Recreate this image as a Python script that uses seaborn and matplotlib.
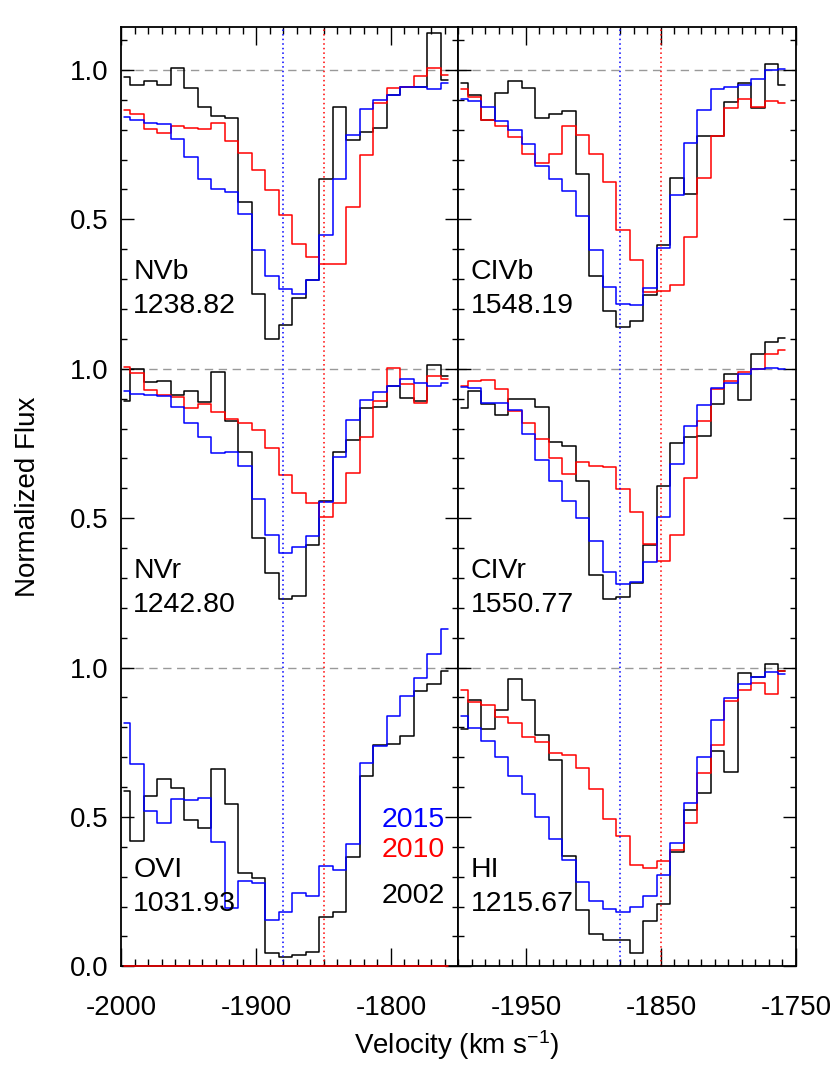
import numpy as np
import pandas as pd
import seaborn as sns
import matplotlib
matplotlib.use("Agg")
import matplotlib.pyplot as plt
from matplotlib.ticker import MultipleLocator

sns.set_style("ticks")
plt.rcParams['font.family'] = ['Liberation Sans', 'DejaVu Sans']
plt.rcParams['mathtext.default'] = 'regular'
plt.rcParams['axes.unicode_minus'] = False
plt.rcParams['axes.edgecolor'] = 'black'
plt.rcParams['xtick.color'] = 'black'
plt.rcParams['ytick.color'] = 'black'
plt.rcParams['text.color'] = 'black'

# velocity bin centres (km/s)
velocity = np.arange(-1998, -1757, 10)

# --- normalized flux per line, per epoch ---
nvb_2002 = [0.977, 0.949, 0.962, 0.949, 1.007, 0.940, 0.875, 0.847, 0.839, 0.558, 0.251, 0.099, 0.147,
            0.237, 0.298, 0.636, 0.875, 0.766, 0.792, 0.807, 0.915, 0.943, 0.943, 1.124, 0.965]
nvb_2010 = [0.865, 0.854, 0.804, 0.790, 0.812, 0.806, 0.804, 0.821, 0.761, 0.721, 0.664, 0.599, 0.516,
            0.417, 0.373, 0.350, 0.350, 0.542, 0.716, 0.888, 0.940, 0.943, 0.980, 1.008, 0.984]
nvb_2015 = [0.844, 0.834, 0.824, 0.819, 0.770, 0.709, 0.634, 0.600, 0.592, 0.517, 0.396, 0.312, 0.267,
            0.250, 0.298, 0.449, 0.634, 0.783, 0.871, 0.901, 0.917, 0.943, 0.943, 0.935, 0.956]

civb_2002 = [0.958, 0.915, 0.834, 0.924, 0.962, 0.940, 0.839, 0.853, 0.862, 0.653, 0.309, 0.192, 0.140,
             0.161, 0.246, 0.413, 0.638, 0.586, 0.779, 0.779, 0.893, 0.955, 0.873, 1.021, 0.951]
civb_2010 = [0.935, 0.910, 0.832, 0.812, 0.775, 0.718, 0.689, 0.720, 0.812, 0.783, 0.720, 0.625, 0.463,
             0.363, 0.257, 0.260, 0.281, 0.441, 0.638, 0.778, 0.873, 0.904, 0.876, 0.896, 0.891]
civb_2015 = [0.904, 0.895, 0.876, 0.829, 0.800, 0.751, 0.679, 0.634, 0.596, 0.511, 0.398, 0.273, 0.218,
             0.214, 0.271, 0.404, 0.583, 0.757, 0.865, 0.935, 0.943, 0.949, 0.971, 0.999, 1.004]

nvr_2002 = [0.893, 1.000, 0.956, 0.959, 0.912, 0.926, 0.890, 0.990, 0.826, 0.722, 0.435, 0.315, 0.229,
            0.240, 0.410, 0.556, 0.720, 0.762, 0.867, 0.871, 0.943, 0.902, 0.893, 1.012, 0.977]
nvr_2010 = [1.007, 0.985, 0.930, 0.913, 0.904, 0.868, 0.881, 0.854, 0.831, 0.818, 0.795, 0.735, 0.646,
            0.584, 0.550, 0.504, 0.551, 0.651, 0.772, 0.891, 1.002, 0.949, 0.887, 0.977, 0.965]
nvr_2015 = [0.924, 0.917, 0.912, 0.910, 0.871, 0.820, 0.772, 0.719, 0.722, 0.675, 0.564, 0.443, 0.385,
            0.402, 0.439, 0.555, 0.703, 0.829, 0.896, 0.921, 0.943, 0.965, 0.952, 0.943, 0.952]

civr_2002 = [0.867, 0.924, 0.882, 0.846, 0.898, 0.898, 0.873, 0.756, 0.740, 0.625, 0.310, 0.231, 0.237,
             0.282, 0.410, 0.608, 0.750, 0.770, 0.776, 0.882, 0.982, 0.895, 1.049, 1.090, 1.102]
civr_2010 = [0.941, 0.958, 0.962, 0.932, 0.859, 0.817, 0.765, 0.700, 0.647, 0.689, 0.675, 0.672, 0.599,
             0.519, 0.413, 0.357, 0.443, 0.633, 0.826, 0.932, 0.958, 0.988, 0.999, 1.049, 1.064]
civr_2015 = [0.940, 0.937, 0.885, 0.887, 0.862, 0.783, 0.694, 0.623, 0.558, 0.500, 0.422, 0.321, 0.279,
             0.287, 0.352, 0.504, 0.681, 0.807, 0.878, 0.937, 0.952, 0.984, 0.999, 1.004, 0.999]

ovi_2002 = [0.588, 0.421, 0.570, 0.627, 0.596, 0.490, 0.462, 0.661, 0.544, 0.311, 0.295, 0.046, 0.030,
            0.038, 0.047, 0.164, 0.183, 0.365, 0.638, 0.741, 0.744, 0.772, 0.922, 0.945, 0.987]
ovi_2010 = [0.0] * 25
ovi_2015 = [0.814, 0.676, 0.521, 0.479, 0.560, 0.555, 0.565, 0.417, 0.196, 0.287, 0.278, 0.155, 0.183,
            0.247, 0.237, 0.336, 0.322, 0.408, 0.680, 0.739, 0.839, 0.906, 0.964, 1.045, 1.130]

hi_2002 = [0.794, 0.892, 0.795, 0.858, 0.961, 0.890, 0.775, 0.691, 0.369, 0.189, 0.108, 0.088, 0.088,
           0.044, 0.152, 0.209, 0.384, 0.523, 0.581, 0.719, 0.652, 0.981, 0.970, 1.011, 0.990]
hi_2010 = [0.925, 0.886, 0.875, 0.834, 0.814, 0.766, 0.750, 0.713, 0.708, 0.665, 0.593, 0.492, 0.436,
           0.339, 0.330, 0.353, 0.390, 0.481, 0.646, 0.741, 0.888, 0.925, 0.948, 0.912, 0.989]
hi_2015 = [0.839, 0.799, 0.754, 0.702, 0.638, 0.576, 0.499, 0.425, 0.356, 0.281, 0.220, 0.191, 0.183,
           0.200, 0.235, 0.304, 0.412, 0.548, 0.699, 0.823, 0.897, 0.944, 0.968, 0.984, 0.978]

line_names = ["NVb", "CIVb", "NVr", "CIVr", "OVI", "HI"]
line_waves = ["1238.82", "1548.19", "1242.80", "1550.77", "1031.93", "1215.67"]
years = ["2002", "2010", "2015"]
year_colors = {"2002": "black", "2010": "red", "2015": "blue"}

# (panel column, row offset, spectra per year)
panels = [
    (0, 2, [nvb_2002, nvb_2010, nvb_2015]),
    (1, 2, [civb_2002, civb_2010, civb_2015]),
    (0, 1, [nvr_2002, nvr_2010, nvr_2015]),
    (1, 1, [civr_2002, civr_2010, civr_2015]),
    (0, 0, [ovi_2002, ovi_2010, ovi_2015]),
    (1, 0, [hi_2002, hi_2010, hi_2015]),
]

v_2015 = -1880
v_2010 = -1850

fig = plt.figure(figsize=(8.3, 10.75), dpi=100)
ax_l = fig.add_axes([0.1458, 0.1011, 0.4066, 0.8741])
ax_r = fig.add_axes([0.5524, 0.1011, 0.4066, 0.8741])
axes = [ax_l, ax_r]

for i, (col, off, spectra) in enumerate(panels):
    ax = axes[col]
    for yr, flux in zip(years, spectra):
        df = pd.DataFrame({"v": velocity, "f": np.array(flux) + off})
        # OVI has no 2010 data: flat line on the bottom axis, drawn over the spine
        on_axis = (off == 0 and max(flux) == 0)
        sns.lineplot(data=df, x="v", y="f", ax=ax, color=year_colors[yr], lw=1.1,
                     drawstyle="steps-mid", estimator=None, errorbar=None,
                     clip_on=not on_axis, zorder=3 if on_axis else 2)
    ax.text(-1991, off + 0.30, line_names[i], fontsize=20.5, ha="left", va="baseline")
    ax.text(-1991, off + 0.185, line_waves[i], fontsize=20.5, ha="left", va="baseline")

for col, ax in enumerate(axes):
    for lvl in [1, 2, 3]:
        ax.axhline(lvl, color="#999999", lw=1.0, ls=(0, (6, 4)), zorder=0)
    ax.axvline(v_2015, color="blue", lw=1.1, ls=(0, (1, 2)))
    ax.axvline(v_2010, color="red", lw=1.1, ls=(0, (1, 2)))
    ax.set_xlim(-2000, -1750)
    ax.set_ylim(0, 3.145)
    ax.set_xlabel("")
    ax.set_ylabel("")
    ax.yaxis.set_major_locator(MultipleLocator(0.5))
    ax.yaxis.set_minor_locator(MultipleLocator(0.1))
    ax.xaxis.set_minor_locator(MultipleLocator(10))
    ax.tick_params(which="both", direction="in", top=True, right=True, labelsize=20, width=1.0)
    ax.tick_params(axis="y", which="major", length=9.5, pad=9)
    ax.tick_params(axis="y", which="minor", length=4.5)
    ax.tick_params(axis="x", which="major", length=13, pad=21)
    ax.tick_params(axis="x", which="minor", length=5)
    for s in ax.spines.values():
        s.set_linewidth(1.3)

ax_l.set_xticks([-2000, -1900, -1800])
ax_l.set_xticklabels(["-2000", "-1900", "-1800"])
ax_r.set_xticks([-1950, -1850, -1750])
ax_r.set_xticklabels(["-1950", "-1850", "-1750"])
ax_l.set_yticks([0, 0.5, 1, 1.5, 2, 2.5, 3])
ax_l.set_yticklabels(["0.0", "0.5", "1.0", "0.5", "1.0", "0.5", "1.0"])
ax_r.set_yticks([0, 0.5, 1, 1.5, 2, 2.5, 3])
ax_r.set_yticklabels([])

# epoch key
ax_l.text(-1760, 0.465, "2015", color="blue", fontsize=20.5, ha="right", va="baseline")
ax_l.text(-1760, 0.367, "2010", color="red", fontsize=20.5, ha="right", va="baseline")
ax_l.text(-1760, 0.211, "2002", color="black", fontsize=20.5, ha="right", va="baseline")

fig.text(0.034, 0.5377, "Normalized Flux", rotation=90, fontsize=20, ha="center", va="center")
fig.text(0.5506, 0.028, "Velocity (km s$^{-1}$)", fontsize=20, ha="center", va="center")

fig.savefig("out.png", dpi=100)
